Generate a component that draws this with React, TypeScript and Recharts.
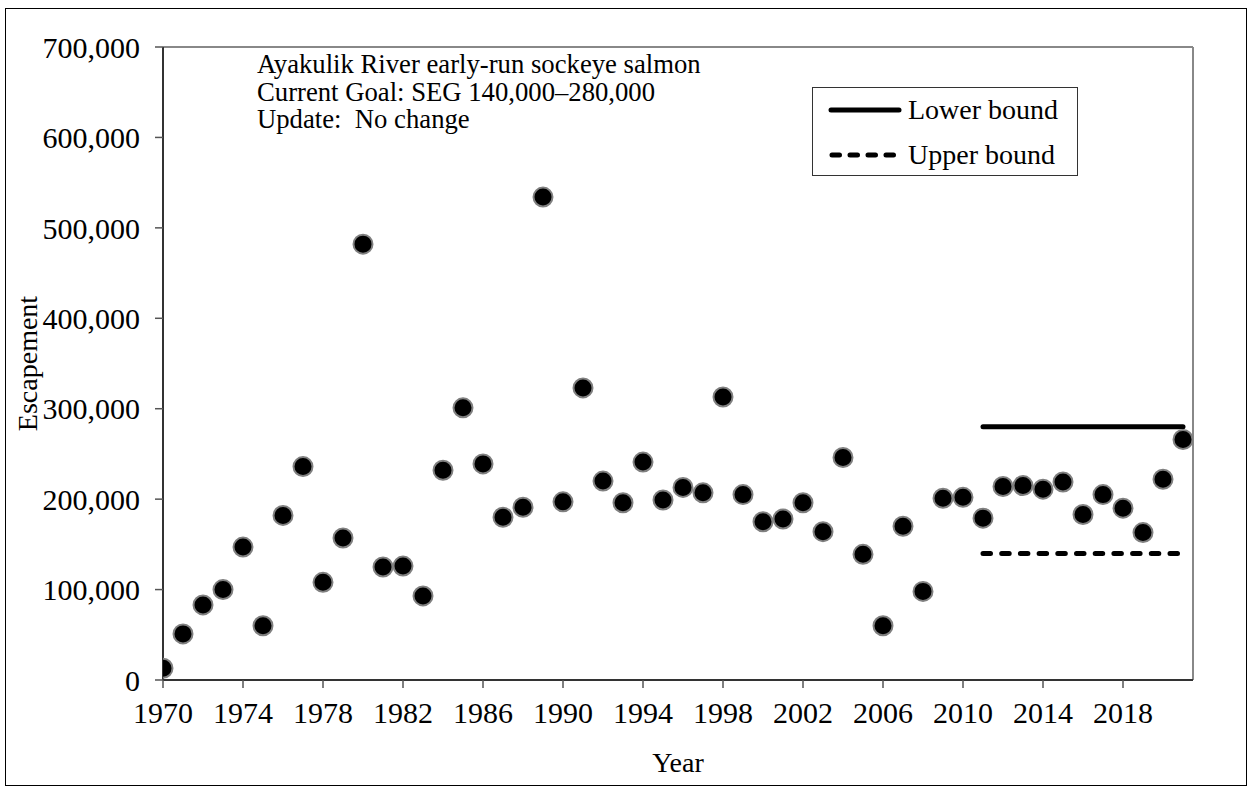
import React from 'react';
import { ScatterChart, Scatter, XAxis, YAxis, ReferenceLine } from 'recharts';

const years = [
  1970, 1971, 1972, 1973, 1974, 1975, 1976, 1977, 1978, 1979,
  1980, 1981, 1982, 1983, 1984, 1985, 1986, 1987, 1988, 1989,
  1990, 1991, 1992, 1993, 1994, 1995, 1996, 1997, 1998, 1999,
  2000, 2001, 2002, 2003, 2004, 2005, 2006, 2007, 2008, 2009,
  2010, 2011, 2012, 2013, 2014, 2015, 2016, 2017, 2018, 2019,
  2020, 2021,
];

const escapement = [
  13000, 51000, 83000, 100000, 147000, 60000, 182000, 236000, 108000, 157000,
  482000, 125000, 126000, 93000, 232000, 301000, 239000, 180000, 191000, 534000,
  197000, 323000, 220000, 196000, 241000, 199000, 213000, 207000, 313000, 205000,
  175000, 178000, 196000, 164000, 246000, 139000, 60000, 170000, 98000, 201000,
  202000, 179000, 214000, 215000, 211000, 219000, 183000, 205000, 190000, 163000,
  222000, 266000,
];

const boundYears = [2011, 2021];
const lowerBound = 280000;
const upperBound = 140000;

const xTicks = [1970, 1974, 1978, 1982, 1986, 1990, 1994, 1998, 2002, 2006, 2010, 2014, 2018];
const yTicks = [0, 100000, 200000, 300000, 400000, 500000, 600000, 700000];

const font = '"Liberation Serif", "Times New Roman", serif';

const points = years.map((year, i) => ({ year, value: escapement[i] }));
const lowerData = boundYears.map((year) => ({ year, value: lowerBound }));
const upperData = boundYears.map((year) => ({ year, value: upperBound }));

const Dot = (props: any) => {
  const { cx, cy } = props;
  return <circle cx={cx} cy={cy} r={9.5} fill="#000" stroke="#808080" strokeWidth={2} />;
};

const NoShape = () => <g />;

export default function App() {
  return (
    <div style={{ position: 'absolute', left: 0, top: 0, width: 1252, height: 792, background: '#fff', fontFamily: font }}>
      <div
        style={{
          position: 'absolute',
          left: 5,
          top: 8,
          width: 1242,
          height: 778,
          boxSizing: 'border-box',
          border: '1px solid #000',
        }}
      />
      <ScatterChart width={1252} height={792} margin={{ top: 47, right: 59, bottom: 62, left: 23 }}>
        <XAxis
          type="number"
          dataKey="year"
          domain={[1970, 2021.5]}
          ticks={xTicks}
          allowDataOverflow
          height={50}
          tickSize={8}
          tickMargin={14}
          axisLine={{ stroke: '#333', strokeWidth: 2 }}
          tickLine={{ stroke: '#555', strokeWidth: 1.5 }}
          tick={{ fontSize: 30, fill: '#000', fontFamily: font }}
          label={{ value: 'Year', position: 'bottom', offset: 22, fontSize: 28, fill: '#000', fontFamily: font }}
        />
        <YAxis
          type="number"
          dataKey="value"
          domain={[0, 700000]}
          ticks={yTicks}
          width={140}
          tickSize={8}
          tickMargin={15}
          axisLine={{ stroke: '#333', strokeWidth: 2 }}
          tickLine={{ stroke: '#555', strokeWidth: 1.5 }}
          tick={{ fontSize: 30, fill: '#000', fontFamily: font }}
          tickFormatter={(v: number) => v.toLocaleString('en-US')}
          label={{
            value: 'Escapement',
            angle: -90,
            position: 'insideLeft',
            offset: 4,
            fontSize: 28,
            fill: '#000',
            fontFamily: font,
            style: { textAnchor: 'middle' },
          }}
        />
        <ReferenceLine y={700000} stroke="#888" strokeWidth={2} />
        <ReferenceLine x={2021.5} stroke="#888" strokeWidth={2} />
        <Scatter
          data={lowerData}
          shape={NoShape}
          line={{ stroke: '#000', strokeWidth: 5, strokeLinecap: 'round' }}
          isAnimationActive={false}
        />
        <Scatter
          data={upperData}
          shape={NoShape}
          line={{ stroke: '#000', strokeWidth: 5, strokeLinecap: 'round', strokeDasharray: '7.5 11.2' }}
          isAnimationActive={false}
        />
        <Scatter data={points} shape={Dot} isAnimationActive={false} />
      </ScatterChart>

      <div style={{ position: 'absolute', left: 257, top: 51, fontSize: 26.7, lineHeight: '27.5px', color: '#000' }}>
        <div>Ayakulik River early-run sockeye salmon</div>
        <div>Current Goal: SEG 140,000–280,000</div>
        <div style={{ whiteSpace: 'pre' }}>Update:  No change</div>
      </div>

      <div
        style={{
          position: 'absolute',
          left: 812,
          top: 87,
          width: 266,
          height: 89,
          boxSizing: 'border-box',
          border: '1px solid #333',
          fontSize: 28,
          color: '#000',
        }}
      >
        <div style={{ position: 'absolute', left: 15, top: 6, display: 'flex', alignItems: 'center', height: 32 }}>
          <svg width={74} height={10} style={{ marginRight: 6 }}>
            <line x1={3} y1={5} x2={71} y2={5} stroke="#000" strokeWidth={5} strokeLinecap="round" />
          </svg>
          <span>Lower bound</span>
        </div>
        <div style={{ position: 'absolute', left: 15, top: 51, display: 'flex', alignItems: 'center', height: 32 }}>
          <svg width={74} height={10} style={{ marginRight: 6 }}>
            <line x1={4} y1={5} x2={70} y2={5} stroke="#000" strokeWidth={5} strokeLinecap="round" strokeDasharray="7.5 10.5" />
          </svg>
          <span>Upper bound</span>
        </div>
      </div>
    </div>
  );
}
